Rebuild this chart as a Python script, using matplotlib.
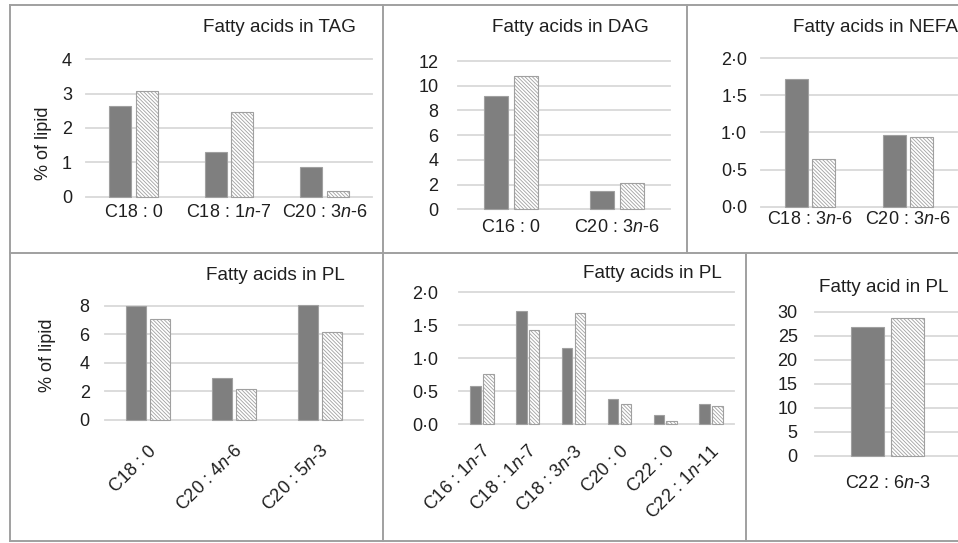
import matplotlib
matplotlib.use("Agg")
import matplotlib.pyplot as plt
from matplotlib.lines import Line2D
import numpy as np

plt.rcParams["font.family"] = ["Liberation Sans", "DejaVu Sans"]
plt.rcParams["mathtext.fontset"] = "custom"
plt.rcParams["mathtext.rm"] = "Liberation Sans"
plt.rcParams["mathtext.it"] = "Liberation Sans:italic"
plt.rcParams["hatch.linewidth"] = 0.6

# ---- data -------------------------------------------------------------
tag_cats = ["C18 : 0", r"C18 : 1$\mathit{n}$-7", r"C20 : 3$\mathit{n}$-6"]
tag_solid = [2.64, 1.31, 0.87]
tag_hatched = [3.09, 2.47, 0.16]

dag_cats = ["C16 : 0", r"C20 : 3$\mathit{n}$-6"]
dag_solid = [9.17, 1.48]
dag_hatched = [10.78, 2.15]

nefa_cats = [r"C18 : 3$\mathit{n}$-6", r"C20 : 3$\mathit{n}$-6"]
nefa_solid = [1.72, 0.96]
nefa_hatched = [0.64, 0.94]

pl1_cats = ["C18 : 0", r"C20 : 4$\mathit{n}$-6", r"C20 : 5$\mathit{n}$-3"]
pl1_solid = [7.95, 2.96, 8.03]
pl1_hatched = [7.07, 2.15, 6.15]

pl2_cats = [r"C16 : 1$\mathit{n}$-7", r"C18 : 1$\mathit{n}$-7", r"C18 : 3$\mathit{n}$-3",
            "C20 : 0", "C22 : 0", r"C22 : 1$\mathit{n}$-11"]
pl2_solid = [0.585, 1.71, 1.16, 0.39, 0.14, 0.31]
pl2_hatched = [0.757, 1.43, 1.69, 0.31, 0.05, 0.28]

pl3_cats = [r"C22 : 6$\mathit{n}$-3"]
pl3_solid = [26.9]
pl3_hatched = [28.75]

# ---- figure -----------------------------------------------------------
W, H = 958, 543
fig = plt.figure(figsize=(W / 100, H / 100), dpi=100)
TXT = "#1f1f1f"
GRID = "#D9D9D9"
EDGE = "#A0A0A0"
SOLID = "#7F7F7F"


def px_axes(x0, y0, x1, y1):
    return fig.add_axes([x0 / W, 1 - y1 / H, (x1 - x0) / W, (y1 - y0) / H])


def dot_fmt(v):
    return f"{v:.1f}".replace(".", "\u00b7")


def panel(rect, cats, solid, hatched, ymax, step, decimals, ypad, xpad,
          rotate=False, xshift_px=0):
    ax = px_axes(*rect)
    n = len(cats)
    x = np.arange(n)
    ax.bar(x - 0.14, solid, 0.23, color=SOLID, edgecolor=EDGE, lw=0.8,
           zorder=3, clip_on=False)
    ax.bar(x + 0.14, hatched, 0.23, color="white", edgecolor=EDGE, lw=0.8,
           hatch="\\" * 9, zorder=3, clip_on=False)
    ax.set_xlim(-0.5, n - 0.5)
    ax.set_ylim(0, ymax)
    ticks = np.arange(0, ymax + step / 2, step)
    ax.set_yticks(ticks)
    if decimals:
        ax.set_yticklabels([dot_fmt(t) for t in ticks])
    else:
        ax.set_yticklabels([f"{t:g}" for t in ticks])
    # rotated labels sit slightly right of the category centre
    px_per_cat = (rect[2] - rect[0]) / n
    ax.set_xticks(x + xshift_px / px_per_cat)
    if rotate:
        ax.set_xticklabels(cats, rotation=45, ha="right", va="center",
                           rotation_mode="anchor")
    else:
        ax.set_xticklabels(cats)
    ax.yaxis.grid(True, color=GRID, lw=1.3)
    for gl in ax.get_ygridlines():
        gl.set_clip_on(False)
    ax.set_axisbelow(True)
    for s in ax.spines.values():
        s.set_visible(False)
    ax.tick_params(axis="y", length=0, pad=ypad, labelsize=13, labelcolor=TXT)
    ax.tick_params(axis="x", length=0, pad=xpad, labelsize=13, labelcolor=TXT)
    ax.patch.set_alpha(0)
    return ax


panel((86, 59.3, 372, 196.7), tag_cats, tag_solid, tag_hatched, 4, 1, False, 10, 5)
panel((458, 61, 670, 209.3), dag_cats, dag_solid, dag_hatched, 12, 2, False, 14, 7)
panel((761, 58.3, 957, 206.7), nefa_cats, nefa_solid, nefa_hatched, 2, 0.5, True, 10, 3)
panel((105, 305.7, 363, 420), pl1_cats, pl1_solid, pl1_hatched, 8, 2, False, 11, 20.5,
      rotate=True, xshift_px=6)
panel((459, 292.3, 734, 424.3), pl2_cats, pl2_solid, pl2_hatched, 2, 0.5, True, 15, 17.5,
      rotate=True, xshift_px=6)
panel((815, 311.7, 960, 455.7), pl3_cats, pl3_solid, pl3_hatched, 30, 5, False, 12.5, 14)

# ---- panel titles -----------------------------------------------------
titles = [
    (203, 27, "Fatty acids in TAG"),
    (492, 27, "Fatty acids in DAG"),
    (793, 27, "Fatty acids in NEFA"),
    (206, 275, "Fatty acids in PL"),
    (583, 273, "Fatty acids in PL"),
    (819, 288, "Fatty acid in PL"),
]
for tx, ty, t in titles:
    fig.text(tx / W, 1 - ty / H, t, ha="left", va="center", fontsize=13.6, color=TXT)

# ---- y-axis labels ----------------------------------------------------
for lx, ly in [(43, 143.5), (48, 355)]:
    fig.text(lx / W, 1 - ly / H, "% of lipid", rotation=90, ha="center",
             va="center", fontsize=13, color=TXT)

# ---- panel frames -----------------------------------------------------
def frame_line(x0, y0, x1, y1):
    fig.add_artist(Line2D([x0 / W, x1 / W], [1 - y0 / H, 1 - y1 / H],
                          color=EDGE, lw=1.4, transform=fig.transFigure))

frame_line(10, 5, 958, 5)
frame_line(10, 5, 10, 541)
frame_line(10, 541, 958, 541)
frame_line(10, 252.5, 958, 252.5)
frame_line(383, 5, 383, 541)
frame_line(687, 5, 687, 252.5)
frame_line(746, 252.5, 746, 541)

fig.savefig("out.png", dpi=100)
